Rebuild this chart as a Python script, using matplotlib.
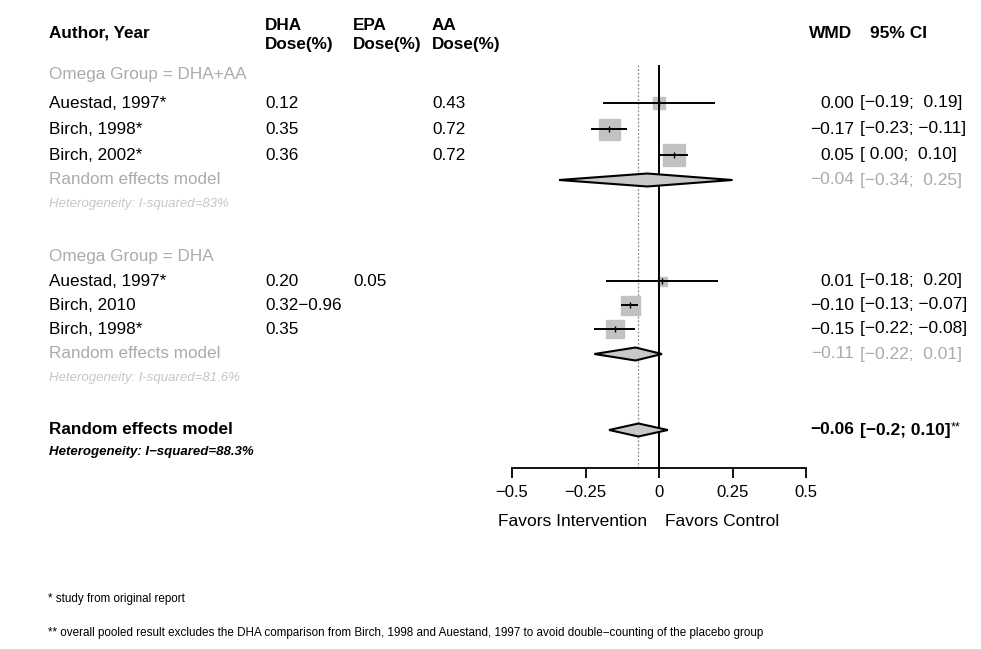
import numpy as np
import matplotlib
matplotlib.use("Agg")
import matplotlib.pyplot as plt
from matplotlib.transforms import blended_transform_factory

plt.rcParams["font.family"] = ["Liberation Sans", "DejaVu Sans"]

# subgroup 1: DHA+AA
g1_label = "Omega Group = DHA+AA"
g1_study = ["Auestad, 1997*", "Birch, 1998*", "Birch, 2002*"]
g1_dha = ["0.12", "0.35", "0.36"]
g1_epa = ["", "", ""]
g1_aa = ["0.43", "0.72", "0.72"]
g1_wmd = [0.00, -0.17, 0.05]
g1_lo = [-0.19, -0.23, 0.00]
g1_hi = [0.19, -0.11, 0.10]
g1_weight = [12, 21, 22]
g1_pooled = [-0.04, -0.34, 0.25]
g1_het = "Heterogeneity: I-squared=83%"

# subgroup 2: DHA
g2_label = "Omega Group = DHA"
g2_study = ["Auestad, 1997*", "Birch, 2010", "Birch, 1998*"]
g2_dha = ["0.20", "0.32\u22120.96", "0.35"]
g2_epa = ["0.05", "", ""]
g2_aa = ["", "", ""]
g2_wmd = [0.01, -0.10, -0.15]
g2_lo = [-0.18, -0.13, -0.22]
g2_hi = [0.20, -0.07, -0.08]
g2_weight = [9, 19, 18]
g2_pooled = [-0.11, -0.22, 0.01]
g2_pooled_drawn = [-0.08, -0.22, 0.01]
g2_het = "Heterogeneity: I-squared=81.6%"

# overall
overall_drawn = [-0.07, -0.17, 0.03]
overall_wmd = "\u22120.06"
overall_ci = "[\u22120.2; 0.10]"
overall_het = "Heterogeneity: I\u2212squared=88.3%"

ticks = [-0.5, -0.25, 0, 0.25, 0.5]
tick_labels = ["\u22120.5", "\u22120.25", "0", "0.25", "0.5"]

# vertical layout (pixel rows from the top)
g1_rows = [74, 103, 129, 155, 180, 204]
g2_rows = [256, 281, 305, 329, 354, 378]
overall_rows = [430, 452]

W, H = 981, 649
fig = plt.figure(figsize=(W / 100, H / 100), dpi=100)

top_px, bot_px = 65, 468
ax = fig.add_axes([512 / W, 1 - bot_px / H, 294 / W, (bot_px - top_px) / H])
ax.set_xlim(-0.5, 0.5)
ax.set_ylim(bot_px, top_px)
for s in ["left", "right", "top"]:
    ax.spines[s].set_visible(False)
ax.spines["bottom"].set_linewidth(1.3)
ax.set_yticks([])
ax.set_xticks(ticks)
ax.set_xticklabels(tick_labels)
ax.tick_params(axis="x", length=7, width=1.3, labelsize=12, pad=5)

ax.axvline(0, color="black", lw=1.4, zorder=3)
ax.axvline(overall_drawn[0], color="#888888", lw=0.9, ls=(0, (1.5, 1.5)), zorder=1)

tf = blended_transform_factory(fig.transFigure, ax.transData)
GRAY, LGRAY = "#ababab", "#c6c6c6"
FS = 12.3
FR = 12.5

def fmt(v):
    return f"{v:5.2f}".replace("-", "\u2212")

def col(x, y, s, **kw):
    kw.setdefault("fontsize", FS)
    return ax.text(x / W, y, s, transform=tf, va="center", **kw)

def diamond(c, lo, hi, y, h=6.5):
    ax.fill([lo, c, hi, c], [y, y - h, y, y + h], facecolor="#c8c8c8",
            edgecolor="black", lw=1.5, zorder=4, clip_on=False)

# headers
col(49, 33, "Author, Year", fontweight="bold")
for x, name in [(265, "DHA"), (353, "EPA"), (432, "AA")]:
    col(x, 25, name, fontweight="bold")
    col(x, 45, "Dose(%)", fontweight="bold")
col(852, 33, "WMD", fontweight="bold", ha="right", fontsize=FR)
col(870, 33, "95% CI", fontweight="bold", fontsize=FR)

groups = [
    (g1_rows, g1_label, g1_study, g1_dha, g1_epa, g1_aa, g1_wmd, g1_lo, g1_hi, g1_weight, g1_pooled, g1_pooled, g1_het),
    (g2_rows, g2_label, g2_study, g2_dha, g2_epa, g2_aa, g2_wmd, g2_lo, g2_hi, g2_weight, g2_pooled, g2_pooled_drawn, g2_het),
]
for rows, label, study, dha, epa, aa, wmd, lo, hi, wt, pooled, drawn, het in groups:
    col(49, rows[0], label, color=GRAY)
    for i in range(len(study)):
        y = rows[1 + i]
        col(49, y, study[i])
        col(265, y, dha[i])
        col(353, y, epa[i])
        col(432, y, aa[i])
        col(854, y, fmt(wmd[i]).strip(), ha="right", fontsize=FR)
        col(860, y, "[" + fmt(lo[i]) + "; " + fmt(hi[i]) + "]", fontsize=FR)
        ax.plot(wmd[i], y, marker="s", ms=wt[i] * 0.72, color="#c2c2c2",
                mec="#c2c2c2", zorder=2, clip_on=False)
        ax.hlines(y, lo[i], hi[i], color="black", lw=1.4, zorder=3)
        ax.plot(wmd[i], y, marker="|", ms=5, color="black", mew=1, zorder=3)
    y = rows[4]
    col(49, y, "Random effects model", color=GRAY)
    col(854, y, fmt(pooled[0]).strip(), ha="right", color=GRAY, fontsize=FR)
    col(860, y, "[" + fmt(pooled[1]) + "; " + fmt(pooled[2]) + "]", color=GRAY, fontsize=FR)
    diamond(drawn[0], drawn[1], drawn[2], y)
    col(49, rows[5], het, color=LGRAY, fontsize=9.5, fontstyle="italic")

# overall
y = overall_rows[0]
col(49, y, "Random effects model", fontweight="bold")
col(854, y, overall_wmd, ha="right", fontweight="bold", fontsize=FR)
col(860, y, overall_ci, fontweight="bold", fontsize=FR)
col(951, y - 3, "**", fontsize=9)
diamond(overall_drawn[0], overall_drawn[1], overall_drawn[2], y)
col(49, overall_rows[1], overall_het, fontsize=9.5, fontweight="bold", fontstyle="italic")

trans_x = blended_transform_factory(ax.transData, fig.transFigure)
fig.text(-0.04, 1 - 521 / H, "Favors Intervention", transform=trans_x,
         ha="right", va="center", fontsize=12.5)
fig.text(0.02, 1 - 521 / H, "Favors Control", transform=trans_x,
         ha="left", va="center", fontsize=12.5)

foot = ["Liberation Sans Narrow", "Liberation Sans", "DejaVu Sans"]
fig.text(48 / W, 1 - 599 / H, "* study from original report", family=foot,
         fontsize=8.4, va="center")
fig.text(48 / W, 1 - 633 / H,
         "** overall pooled result excludes the DHA comparison from Birch, 1998 and "
         "Auestand, 1997 to avoid double\u2212counting of the placebo group",
         family=foot, fontsize=8.4, va="center")

fig.savefig("out.png", dpi=100)
